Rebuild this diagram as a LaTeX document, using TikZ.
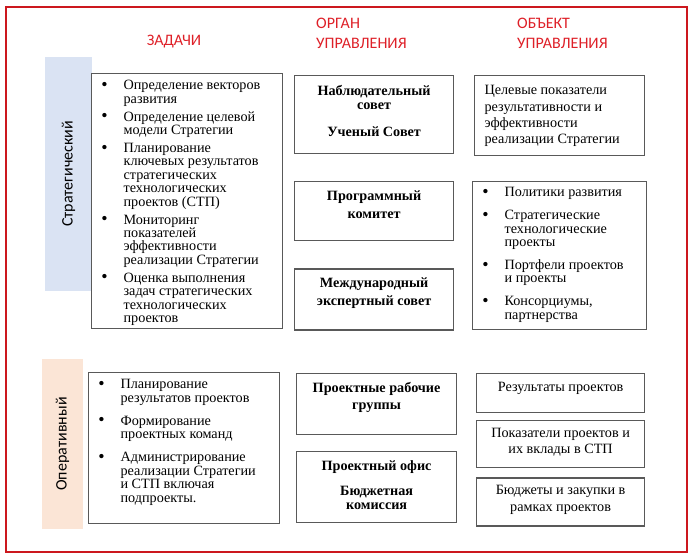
\documentclass[tikz,border=0pt]{standalone}
\usepackage{fontspec}
\setmainfont{Liberation Serif}
\newfontfamily\headfont{Carlito}
\usepackage{enumitem}
\usepackage{tikz}
\usetikzlibrary{positioning}
\definecolor{framered}{RGB}{204,24,30}
\definecolor{headred}{RGB}{222,32,40}
\definecolor{boxgray}{RGB}{89,89,89}
\definecolor{stratblue}{RGB}{218,227,243}
\definecolor{operpeach}{RGB}{251,229,214}

\newcommand{\cellbox}[3]{\parbox[c][#2][t]{#1}{\raggedright #3}}
\newcommand{\topgap}[1]{\rule{0pt}{#1}}
\newcommand{\dotmark}{\raisebox{-0.6pt}{\fontsize{18}{18}\selectfont\textbullet}}
\setlist[itemize]{label=\dotmark, leftmargin=32pt, labelsep=16pt, topsep=0pt, partopsep=0pt, parsep=0pt}

\begin{document}
\begin{tikzpicture}[
    x=1pt, y=-1pt,
    font=\fontsize{14.2}{13.4}\selectfont,
    cell/.style={
		rectangle,
		draw=boxgray,
		line width=1.2pt,
		fill=white,
		inner sep=0pt,
		anchor=north west
	},
	head/.style={
		text=headred,
		font=\headfont\fontsize{16}{20}\selectfont,
		inner sep=0pt
	},
	band/.style={
		font=\headfont\fontsize{16}{20}\selectfont,
		rotate=90,
		inner sep=0pt
	}
  ]
  \useasboundingbox (0,0) rectangle (694,560);
  \draw [framered, line width=1.5pt] (6,7) rectangle (687,552);

    % We start by placing the level bands and the headings
  \node [band, fill=stratblue, minimum width=234pt, minimum height=47pt] (strat) at (68.5,174) {Стратегический};
  \node [band, fill=operpeach, minimum width=170pt, minimum height=41pt] (oper) at (62.5,444) {Оперативный};

  \node [head, anchor=base] (hTasks) at (174,45) {ЗАДАЧИ};
  \node [head, anchor=base west] (hOrgan) at (316,28)
 {%
 \begin{tabular}[t]{@{}l@{}}
  ОРГАН\\
  УПРАВЛЕНИЯ
 \end{tabular}
 };
  \node [head, anchor=base west] (hObject) at (517,28)
 {%
 \begin{tabular}[t]{@{}l@{}}
  ОБЪЕКТ\\
  УПРАВЛЕНИЯ
 \end{tabular}
 };

    % tasks
  \node [cell] (task1) at (91,73)
 {\cellbox{191pt}{255pt}{%
 \begin{itemize}[itemsep=4.6pt]
  \item \topgap{16pt}Определение векторов\\развития
  \item Определение целевой\\модели Стратегии
  \item Планирование\\ключевых результатов\\стратегических\\технологических\\проектов (СТП)
  \item Мониторинг\\показателей\\эффективности\\реализации Стратегии
  \item Оценка выполнения\\задач стратегических\\технологических\\проектов
 \end{itemize}}};

  \node [cell] (task2) at (88,372)
 {\cellbox{191pt}{151pt}{\fontsize{14.2}{13.5}\selectfont
 \begin{itemize}[itemsep=9.5pt]
  \item \topgap{16pt}Планирование\\результатов проектов
  \item Формирование\\проектных команд
  \item Администрирование\\реализации Стратегии\\и СТП включая\\подпроекты.
 \end{itemize}}};

    % management bodies
  \node [cell] (organ1) at (294,75)
 {\cellbox{159pt}{78pt}{\centering\bfseries
  \topgap{20pt}Наблюдательный\\совет\\[14pt]Ученый Совет}};

  \node [cell, below=27pt of organ1] (organ2)
 {\cellbox{159pt}{59pt}{\centering\bfseries\fontsize{14.2}{18}\selectfont
  \topgap{19pt}Программный\\комитет}};

  \node [cell, below=27pt of organ2] (organ3)
 {\cellbox{159pt}{61pt}{\centering\bfseries\fontsize{14.2}{18}\selectfont
  \topgap{18pt}Международный\\экспертный совет}};

  \node [cell] (organ4) at (296,373)
 {\cellbox{160pt}{61pt}{\centering\bfseries\fontsize{14.2}{17}\selectfont
  \topgap{19pt}Проектные рабочие\\группы}};

  \node [cell, below=16pt of organ4] (organ5)
 {\cellbox{160pt}{71pt}{\centering\bfseries\fontsize{14.2}{14}\selectfont
  \topgap{19pt}Проектный офис\\[11pt]Бюджетная\\комиссия}};

    % objects of management
  \node [cell] (object1) at (474,75)
 {\cellbox{170pt}{80pt}{\leftskip=10pt\fontsize{14.2}{16.4}\selectfont
  \topgap{19pt}Целевые показатели\\результативности и\\эффективности\\реализации Стратегии}};

  \node [cell, below=25pt of object1] (object2)
 {\cellbox{174pt}{148pt}{\fontsize{14.2}{13.3}\selectfont
 \begin{itemize}[itemsep=9.7pt]
  \item \topgap{15pt}Политики развития
  \item Стратегические\\технологические\\проекты
  \item Портфели проектов\\и проекты
  \item Консорциумы,\\партнерства
 \end{itemize}}};

  \node [cell] (object3) at (476,373)
 {\cellbox{168pt}{39pt}{\centering
  \topgap{18pt}Результаты проектов}};

  \node [cell, below=7pt of object3] (object4)
 {\cellbox{168pt}{47pt}{\centering\fontsize{14.2}{16}\selectfont
  \topgap{17pt}Показатели проектов и\\их вклады в СТП}};

  \node [cell, below=9pt of object4] (object5)
 {\cellbox{168pt}{48pt}{\centering\fontsize{14.2}{17}\selectfont
  \topgap{16pt}Бюджеты и закупки в\\рамках проектов}};

\end{tikzpicture}
\end{document}
